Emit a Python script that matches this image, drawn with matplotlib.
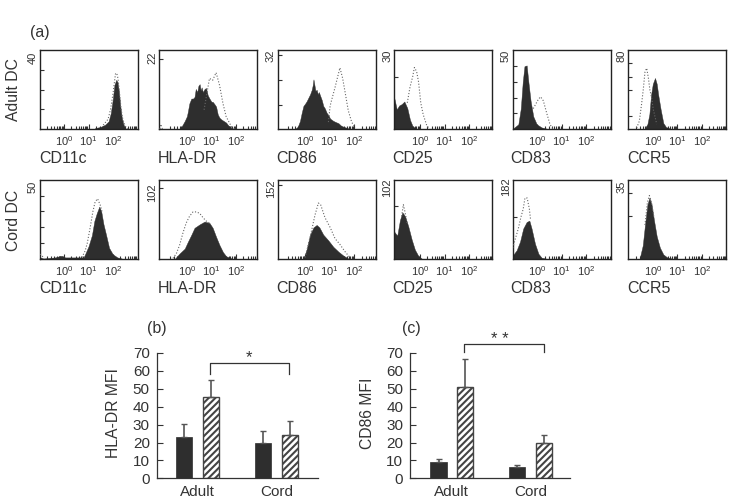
import numpy as np
import matplotlib
matplotlib.use("Agg")
import matplotlib.pyplot as plt

plt.rcParams['font.family'] = ['Liberation Sans', 'DejaVu Sans']
plt.rcParams['mathtext.default'] = 'regular'
plt.rcParams['hatch.linewidth'] = 1.5
plt.rcParams['hatch.color'] = '#333333'

GAP = float('nan')

# Histogram data: x = log10 fluorescence, y = counts
a_cd11c_x = [1.27, 1.48, 1.68, 1.82, 1.91, 1.99, 2.06, 2.13, 2.18, 2.24, 2.29, 2.36, 2.43, 2.51]
a_cd11c_y = [0.5, 1, 2.2, 3.9, 8.1, 15, 22.5, 25, 24, 19.3, 12.5, 5.6, 2.2, 0.5]
a_cd11c_dx = [1.6, 1.8, 1.9, 2.0, 2.06, 2.1, 2.15, 2.2, 2.27, 2.33, 2.4, 2.5, 2.6]
a_cd11c_dy = [2, 5, 10, 18, 24, 28, 28.5, 26, 18, 10, 5, 1.5, 0]

a_hla_x = [-0.30, -0.2, -0.09, 0, 0.04, 0.1, 0.18, 0.25, 0.31, 0.36, 0.42, 0.47, 0.52, 0.56, 0.6, 0.65, 0.72, 0.78,
           0.85, 0.92, 1.0, 1.05, 1.12, 1.19, 1.26, 1.33, 1.4, 1.5, 1.6, 1.7, 1.81]
a_hla_y = [0, 1, 2.5, 4, 5.5, 8, 9.5, 9.5, 10, 12.5, 11.5, 13.5, 14, 12, 13, 11.5, 12.5, 12.8,
           10.5, 9.5, 8.5, 8.5, 7.8, 7, 4.5, 3.5, 3, 2.5, 2, 1, 0.5]
a_hla_dx = [-1.1, -1.07, -1.0, GAP, 0.7, 0.79, 0.92, 1.05, 1.19, 1.33, 1.47, 1.6, 1.81, 1.95]
a_hla_dy = [0, 1.5, 0, GAP, 6, 10, 15.8, 15.2, 17.6, 13.7, 8, 3.9, 0.8, 0]

a_cd86_x = [-0.41, -0.3, -0.21, -0.14, -0.07, 0, 0.06, 0.13, 0.2, 0.27, 0.31, 0.34, 0.38, 0.42, 0.47, 0.52, 0.56, 0.61,
            0.68, 0.74, 0.8, 0.88, 0.95, 1.02, 1.15, 1.25, 1.36, 1.46, 1.56, 1.76]
a_cd86_y = [0, 1, 3.5, 7, 10, 11, 12, 13.5, 15, 17, 19, 21.5, 19, 16.5, 17, 15, 16, 14.5,
            12.5, 10, 9, 7, 6, 4.5, 3.5, 3, 2.5, 1.5, 1, 0.3]
a_cd86_dx = [0.95, 1.02, 1.08, 1.22, 1.36, 1.42, 1.53, 1.63, 1.76, 1.9, 2.04]
a_cd86_dy = [3, 10, 12.5, 18, 24, 26.5, 22, 16, 8, 3, 0.5]

a_cd25_x = [-1.05, -0.95, -0.85, -0.75, -0.64, -0.52, -0.41, -0.3, -0.14]
a_cd25_y = [11.8, 7.5, 9, 9.5, 10.5, 8, 3.5, 1, 0.2]
a_cd25_dx = [-0.52, -0.41, -0.3, -0.23, -0.14, -0.06, 0.03, 0.13, 0.27, 0.38]
a_cd25_dy = [10, 16, 20, 23.5, 22, 18, 10, 5.5, 1.5, 0]

a_cd83_x = [-0.97, -0.77, -0.67, -0.59, -0.52, -0.43, -0.36, -0.27, -0.16, -0.02, 0.18, 0.39]
a_cd83_y = [0.5, 3, 13, 30, 40, 40.5, 30, 18, 8, 3, 1, 0.2]
a_cd83_dx = [-0.16, -0.09, 0.05, 0.14, 0.25, 0.39, 0.52, 0.63]
a_cd83_dy = [13, 15, 19, 20.5, 18, 10, 3, 0.3]

a_ccr5_x = [-0.32, -0.22, -0.14, -0.07, 0, 0.09, 0.16, 0.22, 0.32, 0.43, 0.54, 0.7]
a_ccr5_y = [1, 5, 15, 35, 46, 52, 46, 35, 20, 6, 2, 0.5]
a_ccr5_dx = [-0.66, -0.55, -0.46, -0.39, -0.32, -0.25, -0.18, -0.12, -0.05, 0.02, 0.16]
a_ccr5_dy = [1, 8, 25, 40, 58, 62, 52, 40, 32, 20, 5]

c_cd11c_x = [-0.97, -0.84, -0.36, -0.13, 0.05, 0.8, 0.86, 1.0, 1.14, 1.24, 1.34, 1.44, 1.52, 1.61, 1.72, 1.84, 1.99, 2.18, 2.36]
c_cd11c_y = [1, 0.3, 1, 2, 1, 1, 3, 8, 15, 24, 29, 33, 30, 22, 15, 7, 3, 1, 0.3]
c_cd11c_dx = [-1.0, -0.97, -0.8, GAP, 0.73, 0.86, 0.95, 1.07, 1.18, 1.27, 1.37, 1.48, 1.55]
c_cd11c_dy = [1, 3, 0.5, GAP, 1, 5, 10, 20, 30, 36, 38, 34, 30]

c_hla_x = [-0.5, -0.3, -0.09, 0.04, 0.18, 0.31, 0.52, 0.72, 0.92, 1.05, 1.19, 1.33, 1.47, 1.6, 1.81]
c_hla_y = [0, 8, 15, 25, 35, 45, 50, 54, 52, 45, 32, 20, 10, 4, 1]
c_hla_dx = [-0.57, -0.43, -0.3, -0.16, -0.03, 0.11, 0.25, 0.38, 0.52, 0.65, 0.78, 0.92]
c_hla_dy = [1, 8, 20, 38, 52, 62, 68, 68, 66, 60, 55, 52]

c_cd86_x = [-0.07, 0.06, 0.2, 0.34, 0.47, 0.58, 0.74, 0.95, 1.15, 1.36, 1.56, 1.76]
c_cd86_y = [0, 20, 50, 65, 70, 65, 50, 38, 25, 15, 7, 1]
c_cd86_dx = [0, 0.13, 0.27, 0.4, 0.54, 0.63, 0.81, 1.02, 1.22, 1.42, 1.63, 1.83]
c_cd86_dy = [3, 30, 60, 90, 115, 112, 85, 65, 42, 30, 15, 3]

c_cd25_x = [-1.05, -0.93, -0.82, -0.72, -0.61, -0.48, -0.34, -0.21, -0.07, 0.07]
c_cd25_y = [35, 30, 50, 60, 55, 42, 25, 12, 4, 0.5]
c_cd25_dx = [-0.75, -0.68, -0.61, -0.52]
c_cd25_dy = [55, 70, 60, 45]

c_cd83_x = [-1, -0.84, -0.7, -0.57, -0.43, -0.32, -0.23, -0.09, 0.05, 0.18, 0.39]
c_cd83_y = [8, 20, 40, 70, 85, 88, 70, 35, 12, 3, 0.5]
c_cd83_dx = [-1, -0.9, -0.77, -0.67, -0.57, -0.5, -0.41, -0.32, -0.27]
c_cd83_dy = [25, 45, 70, 95, 115, 140, 140, 115, 90]

c_ccr5_x = [-0.52, -0.41, -0.32, -0.22, -0.14, -0.05, 0.05, 0.16, 0.29, 0.43, 0.59, 0.77]
c_ccr5_y = [1, 6, 15, 24, 27, 24, 17, 10, 5, 2, 0.7, 0.2]
c_ccr5_dx = [-0.32, -0.22, -0.14, -0.05, 0.05]
c_ccr5_dy = [15, 25, 28, 25, 18]

markers = ['CD11c', 'HLA-DR', 'CD86', 'CD25', 'CD83', 'CCR5']
adult_top = ['40', '22', '32', '30', '50', '80']
cord_top = ['50', '102', '152', '102', '182', '35']
adult_ymax = [40, 24.5, 34, 30, 50, 80]
cord_ymax = [50, 114.5, 163, 102, 182, 35]
adult_yticks = [[10, 20, 30], [22], [10.6, 21.3, 32], [20], [10, 20, 30, 40], [13, 40, 53, 67]]
cord_yticks = [[10, 20, 30, 40], [102], [152], [68], [96], [19, 29]]

# Bar chart data
groups = ['Adult', 'Cord']
hla_filled = [23, 20]
hla_hatched = [45.5, 24]
hla_filled_err = [7.5, 6.5]
hla_hatched_err = [9.5, 8]
cd86_filled = [9, 6.5]
cd86_hatched = [51, 19.5]
cd86_filled_err = [2, 1]
cd86_hatched_err = [15.5, 4.5]
bar_ticks = [0, 10, 20, 30, 40, 50, 60, 70]

INK = '#333333'
W, H = 740, 501
fig = plt.figure(figsize=(7.4, 5.01), dpi=100)


def px_axes(l, t, r, b):
    return fig.add_axes([l / W, 1 - b / H, (r - l) / W, (b - t) / H])


def ftext(x, y, s, **kw):
    kw.setdefault('color', INK)
    kw.setdefault('ha', 'center')
    kw.setdefault('va', 'center')
    return fig.text(x / W, 1 - y / H, s, **kw)


lefts = [39.5, 159, 277.7, 394.3, 512.7, 628.3]
xmins = [-1.0, -1.14, -1.12, -1.05, -1.0, -1.0]
label_x = [39, 158, 276, 392, 510, 627]
rows = [
    dict(top=50.5, bottom=129, lab=158.5, tops=adult_top, ymax=adult_ymax, yt=adult_yticks, toplab=[58, 58, 56, 56, 56, 56],
         series=[(a_cd11c_x, a_cd11c_y, a_cd11c_dx, a_cd11c_dy), (a_hla_x, a_hla_y, a_hla_dx, a_hla_dy),
                 (a_cd86_x, a_cd86_y, a_cd86_dx, a_cd86_dy), (a_cd25_x, a_cd25_y, a_cd25_dx, a_cd25_dy),
                 (a_cd83_x, a_cd83_y, a_cd83_dx, a_cd83_dy), (a_ccr5_x, a_ccr5_y, a_ccr5_dx, a_ccr5_dy)]),
    dict(top=179.7, bottom=259, lab=288.5, tops=cord_top, ymax=cord_ymax, yt=cord_yticks, toplab=[187, 193, 189, 188, 187, 187],
         series=[(c_cd11c_x, c_cd11c_y, c_cd11c_dx, c_cd11c_dy), (c_hla_x, c_hla_y, c_hla_dx, c_hla_dy),
                 (c_cd86_x, c_cd86_y, c_cd86_dx, c_cd86_dy), (c_cd25_x, c_cd25_y, c_cd25_dx, c_cd25_dy),
                 (c_cd83_x, c_cd83_y, c_cd83_dx, c_cd83_dy), (c_ccr5_x, c_ccr5_y, c_ccr5_dx, c_ccr5_dy)]),
]

for row in rows:
    for i, name in enumerate(markers):
        ax = px_axes(lefts[i], row['top'], lefts[i] + 98, row['bottom'])
        fx, fy, dx, dy = row['series'][i]
        ax.fill_between(fx, 0, fy, color='#2e2e2e', lw=0.3, zorder=2)
        ax.plot(dx, dy, ls=':', lw=0.8, color='#666666', zorder=3)
        ax.set_xlim(xmins[i], xmins[i] + 4)
        ax.set_ylim(0, row['ymax'][i])
        ax.set_xticks([0, 1, 2])
        ax.set_xticklabels(['$10^{0}$', '$10^{1}$', '$10^{2}$'], fontsize=8, color=INK)
        minor = [np.log10(m) + d for d in range(-2, 4) for m in range(1, 10)]
        minor = [v for v in minor if xmins[i] + 0.3 < v < xmins[i] + 4]
        ax.set_xticks(minor, minor=True)
        ax.tick_params(axis='x', which='major', direction='in', length=3.5, width=0.8, pad=3.5, color=INK)
        ax.tick_params(axis='x', which='minor', direction='in', length=2, width=0.8, color=INK)
        ax.set_yticks(row['yt'][i])
        ax.set_yticklabels([])
        ax.tick_params(axis='y', direction='in', length=3, width=0.8, color=INK)
        for s in ax.spines.values():
            s.set_linewidth(1.0)
            s.set_color('#222222')
        ftext(lefts[i] - 7, row['toplab'][i], row['tops'][i], rotation=90, fontsize=8)
        ftext(label_x[i], row['lab'], name, ha='left', fontsize=11.5)


def bars(l, r, xl, xr, ylabel, ylabel_x, filled, hatched, ferr, herr, b0, b1, drop, top):
    ax = px_axes(l, 353, r, 478.3)
    x = np.arange(len(groups))
    off, w = 0.17, 0.205
    ekw = dict(ecolor='#555555', elinewidth=1.2, capsize=2.5, capthick=1.0)
    ax.bar(x - off, filled, w, color='#2e2e2e', edgecolor='#2e2e2e', lw=0.5,
           yerr=[[0] * len(ferr), ferr], error_kw=ekw, zorder=2)
    ax.bar(x + off, hatched, w, facecolor='white', edgecolor='#444444', hatch='/////', lw=1.0,
           yerr=[[0] * len(herr), herr], error_kw=ekw, zorder=2)
    ax.set_xlim(xl, xr)
    ax.set_ylim(0, 70)
    ax.set_xticks(x)
    ax.set_xticklabels(groups, fontsize=11, color=INK)
    ax.tick_params(axis='x', length=0, pad=5)
    ax.set_yticks(bar_ticks)
    ax.set_yticklabels([str(v) for v in bar_ticks], fontsize=11, color=INK)
    ax.tick_params(axis='y', direction='in', length=4, width=0.8, color=INK, pad=5)
    for s in ('top', 'right'):
        ax.spines[s].set_visible(False)
    for s in ('left', 'bottom'):
        ax.spines[s].set_color(INK)
        ax.spines[s].set_linewidth(0.9)
    ax.plot([b0, b0, b1, b1], [drop, top, top, drop], color=INK, lw=0.9, clip_on=False)
    ftext(ylabel_x, 413, ylabel, rotation=90, fontsize=11.3)
    return ax


bars(156.7, 318, -0.52, 1.522, 'HLA-DR MFI', 113, hla_filled, hla_hatched, hla_filled_err, hla_hatched_err,
     0.16, 1.16, 58, 64.2)
ftext(249, 358, '*', fontsize=12)
bars(410.3, 570, -0.53, 1.506, 'CD86 MFI', 367, cd86_filled, cd86_hatched, cd86_filled_err, cd86_hatched_err,
     0.16, 1.17, 70.3, 75.2)
ftext(500, 339, '* *', fontsize=12)

ftext(40, 33, '(a)', fontsize=11.5)
ftext(157, 329, '(b)', fontsize=11.5)
ftext(411, 329, '(c)', fontsize=11.5)
ftext(14, 90, 'Adult DC', rotation=90, fontsize=11.3)
ftext(14, 220, 'Cord DC', rotation=90, fontsize=11.3)

fig.savefig('out.png', dpi=100)
